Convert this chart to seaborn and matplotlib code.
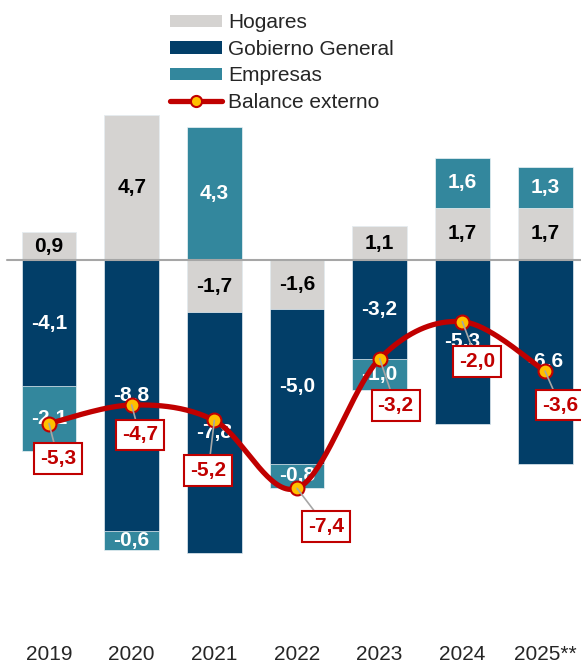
import numpy as np
import pandas as pd
import matplotlib
matplotlib.use("Agg")
import matplotlib.pyplot as plt
from matplotlib.patches import Patch
from matplotlib.lines import Line2D
import seaborn as sns

# ---------------- data ----------------
years = ["2019", "2020", "2021", "2022", "2023", "2024", "2025**"]
hogares = [0.9, 4.7, -1.7, -1.6, 1.1, 1.7, 1.7]
gobierno = [-4.1, -8.8, -7.8, -5.0, -3.2, -5.3, -6.6]
empresas = [-2.1, -0.6, 4.3, -0.8, -1.0, 1.6, 1.3]
balance = [-5.3, -4.7, -5.2, -7.4, -3.2, -2.0, -3.6]
series_names = ["Hogares", "Gobierno General", "Empresas", "Balance externo"]

# ---------------- style ----------------
C_HOG = "#D5D3D1"
C_GOB = "#023E68"
C_EMP = "#33879D"
C_RED = "#C00000"
C_YEL = "#FFC000"
FS = 15

sns.set_style("white")
plt.rcParams["font.family"] = ["Liberation Sans", "DejaVu Sans"]

fig = plt.figure(figsize=(5.81, 6.64), dpi=100)
ax = fig.add_axes([0.0, 30 / 664, 1.0, 1 - 30 / 664])

df = pd.DataFrame({"year": years, "hog": hogares, "gob": gobierno,
                   "emp": empresas, "bal": balance})
pos = lambda s: s.clip(lower=0)
neg = lambda s: s.clip(upper=0)

# layered (back-to-front) cumulative bars
layers = [
    (pos(df.hog) + pos(df.emp), C_EMP),
    (pos(df.hog), C_HOG),
    (neg(df.hog) + neg(df.gob) + neg(df.emp), C_EMP),
    (neg(df.hog) + neg(df.gob), C_GOB),
    (neg(df.hog), C_HOG),
]
W = 0.665
for vals, col in layers:
    sns.barplot(x=df.year, y=vals, color=col, width=W, ax=ax,
                saturation=1, edgecolor="#EEF3F6", linewidth=0.5, zorder=2)

ax.axhline(0, xmin=7 / 581, color="#A6A6A6", lw=1.5, zorder=3)

def fmt(v):
    return f"{v:.1f}".replace(".", ",")

# segment labels
for i in range(len(years)):
    h, g, e = hogares[i], gobierno[i], empresas[i]
    ptop, ntop = 0.0, 0.0
    segs = []
    for v, tc in [(h, "black"), (g, "white"), (e, "white")]:
        if v >= 0:
            segs.append((ptop + v / 2, v, tc)); ptop += v
        else:
            segs.append((ntop + v / 2, v, tc)); ntop += v
    for y, v, tc in segs:
        ax.text(i, y, fmt(v), ha="center", va="center", color=tc,
                fontsize=FS, fontweight="bold", zorder=4)

# smooth balance line (Bezier through points, Excel-like smoothing)
xs = np.arange(len(years), dtype=float)
ys = np.array(balance, dtype=float)
P = np.column_stack([xs, ys])
Pp = np.vstack([P[0], P, P[-1]])
sx, sy = [], []
t = np.linspace(0, 1, 40)
for k in range(len(P) - 1):
    p0, p1, p2, p3 = Pp[k], Pp[k + 1], Pp[k + 2], Pp[k + 3]
    c1 = p1 + (p2 - p0) / 6
    c2 = p2 - (p3 - p1) / 6
    b = ((1 - t) ** 3)[:, None] * p1 + (3 * (1 - t) ** 2 * t)[:, None] * c1 \
        + (3 * (1 - t) * t ** 2)[:, None] * c2 + (t ** 3)[:, None] * p2
    sx.extend(b[:, 0]); sy.extend(b[:, 1])
sns.lineplot(x=sx, y=sy, sort=False, estimator=None, color=C_RED, lw=3.8,
             ax=ax, zorder=5)
ax.scatter(xs, ys, s=100, color=C_YEL, edgecolor=C_RED, linewidth=1.5, zorder=6)

# balance labels with leader lines
offsets = [(9, -35), (8, -30), (-6, -50), (29, -38), (16, -47), (15, -40), (15, -34)]
for i, v in enumerate(balance):
    ax.annotate(fmt(v), xy=(i, v), xytext=offsets[i], textcoords="offset pixels",
                ha="center", va="center", fontsize=FS, fontweight="bold",
                color=C_RED, zorder=7, annotation_clip=False,
                bbox=dict(boxstyle="square,pad=0.28", fc="white", ec=C_RED, lw=1.5),
                arrowprops=dict(arrowstyle="-", color="#A6A6A6", lw=1.2,
                                shrinkA=0, shrinkB=0))

# axes cosmetics
px_unit = 82.67
xmin = -49 / px_unit
ax.set_xlim(xmin, xmin + 581 / px_unit)
s = 30.85
ax.set_ylim(-(634 - 260) / s, 260 / s)
ax.set_xlabel(""); ax.set_ylabel("")
ax.set_yticks([])
ax.tick_params(axis="x", length=0, pad=8, labelsize=FS)
for sp in ax.spines.values():
    sp.set_visible(False)

handles = [
    Patch(facecolor=C_HOG, edgecolor="none"),
    Patch(facecolor=C_GOB, edgecolor="none"),
    Patch(facecolor=C_EMP, edgecolor="none"),
    Line2D([0], [0], color=C_RED, lw=3.8, marker="o", markersize=8,
           markerfacecolor=C_YEL, markeredgecolor=C_RED, markeredgewidth=1.5),
]
fig.legend(handles, series_names, loc="upper left",
           bbox_to_anchor=(166 / 581, 1 - 9 / 664), frameon=False,
           fontsize=FS, handlelength=2.5, handleheight=0.55,
           handletextpad=0.29, labelspacing=0.36, borderaxespad=0, borderpad=0.2)

fig.savefig("out.png", dpi=100)
